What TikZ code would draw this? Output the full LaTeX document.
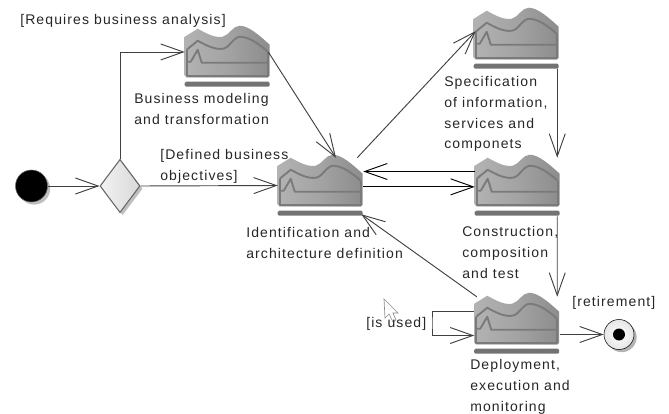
\documentclass[tikz,border=0pt]{standalone}
\usepackage{fontspec}
\setmainfont{Liberation Sans}[LetterSpace=8]
\usetikzlibrary{arrows.meta,shapes.geometric,shadows}

\tikzset{
    stageline/.style={color=black!52, line width=1.4pt, line join=round},
    stagebox/.style={rectangle, inner sep=0, minimum width=63.75pt, minimum height=45.75pt},
    startdot/.style={circle, fill=black, draw=black!60, inner sep=0, minimum size=24pt,
        drop shadow={shadow xshift=2pt, shadow yshift=-2pt, fill=gray, opacity=.5}},
    enddot/.style={circle, draw=black, inner sep=0, minimum size=22.5pt, inner color=white, outer color=black!10,
        drop shadow={shadow xshift=2pt, shadow yshift=-2pt, fill=gray, opacity=.6}},
    decisionbox/.style={diamond, aspect=.75, inner sep=0, minimum width=30pt, minimum height=40pt,
        draw=black!60, line width=.8pt, left color=black!5, right color=black!15,
        drop shadow={shadow xshift=2pt, shadow yshift=-2pt, fill=gray, opacity=.5}},
    flow/.style={draw=black!75, line width=.7pt, -{Straight Barb[length=17pt, width=12pt]}},
    lbl/.style={anchor=north west, inner sep=0, align=left, text=black!85,
        font=\fontsize{10.5}{15.6}\selectfont},
}

\begin{document}
\begin{tikzpicture}[x=0.75pt, y=-0.75pt]
        \useasboundingbox (0,0) rectangle (669,414);

        \node[startdot] (start) at (31.5,186) {};
        \node[decisionbox] (decide) at (120,186) {};
        \node[stagebox] (model) at (227.5,56.5) {};
        \node[stagebox] (ident) at (320.5,185.5) {};
        \node[stagebox] (spec) at (516.5,38.5) {};
        \node[stagebox] (build) at (517.5,185.5) {};
        \node[stagebox] (deploy) at (517,323.5) {};
        \node[enddot] (stop) at (619,334.5) {};
        \fill (stop.center) circle (4.5pt);
        \coordinate (selfturn) at (432,323);

        % the stage icon, in pixels from the top left of its node
        \foreach \stage in {model,ident,spec,build,deploy} {
            \begin{scope}[shift={(\stage.north west)}]
                \shade[left color=black!30, right color=black!45, middle color=black!36]
                    (0,11) -- (13,3) .. controls (24,9) and (30,12) .. (38,11)
                    .. controls (45,9) and (48,0) .. (55,0) .. controls (64,0) and (75,10) .. (85,19)
                    -- (85,50) -- (83,52) -- (2,52) -- (0,50) -- cycle;
                \draw[stageline] (2,24) -- (13,15) .. controls (22,20) and (30,24) .. (38,23)
                    .. controls (45,22) and (48,12) .. (55,11) .. controls (65,11) and (75,19) .. (83,26);
                \draw[stageline] (2,36) -- (6,36) -- (13,24) -- (17,37) -- (83,37);
                \draw[stageline] (2,24) -- (2,50) -- (83,50) -- (83,26);
                \fill[black!55, rounded corners=1pt] (0,56) rectangle (85,61);
            \end{scope}
        }

        \draw[flow] (start) -- (decide);
        \draw[flow] (decide.north) |- ([yshift=3.4pt]model.west);
        \draw[flow] (decide.east) -- (ident.west);
        \draw[flow] ([xshift=-1.5pt,yshift=3.4pt]model.east) -- ([xshift=11.6pt,yshift=-2.25pt]ident.north);
        \draw[flow] ([xshift=-4.5pt,yshift=-2.25pt]ident.north east) -- ([xshift=1.5pt,yshift=5.6pt]spec.west);
        \draw[flow] ([xshift=-1.5pt]spec.south east) -- ([xshift=-2.25pt,yshift=-2.25pt]build.north east);
        \draw[flow] ([xshift=-2.25pt]build.south east) -- ([xshift=-1.9pt,yshift=-3pt]deploy.north east);
        \draw[flow, draw=black] ([yshift=10.5pt]build.west) -- ([yshift=10.5pt]ident.east);
        \draw[flow, draw=black] ([yshift=-1pt]ident.east) -- ([yshift=-1pt]build.west);
        \draw[flow] ([xshift=1.9pt,yshift=-3pt]deploy.north west) -- ([xshift=-1.5pt,yshift=1.5pt]ident.south east);
        \draw[flow] ([yshift=9pt]deploy.west) -| (selfturn) |- ([yshift=-9pt]deploy.west);
        \draw[flow] ([yshift=-8.25pt]deploy.east) -- (stop.west);

        % pointer left in the screenshot
        \draw[black!45, fill=white, line width=.5pt] (384,299) -- (385,318) -- (389,314) -- (393,322)
            -- (396,320) -- (393,313) -- (398,313) -- cycle;

        \node[lbl] (reqlabel) at (20,14) {[Requires business analysis]};
        \node[lbl] (modellabel) at (134,93) {Business modeling\\and transformation};
        \node[lbl] (deflabel) at (160,149) {[Defined business\\objectives]};
        \node[lbl] (speclabel) at (444,76) {Specification\\of information,\\services and\\componets};
        \node[lbl] (identlabel) at (246,227) {Identification and\\architecture definition};
        \node[lbl] (buildlabel) at (462,226) {Construction,\\composition\\and test};
        \node[lbl] (usedlabel) at (366,317) {[is used]};
        \node[lbl] (retlabel) at (572,296) {[retirement]};
        \node[lbl] (deploylabel) at (470,359) {Deployment,\\execution and\\monitoring};
\end{tikzpicture}
\end{document}
